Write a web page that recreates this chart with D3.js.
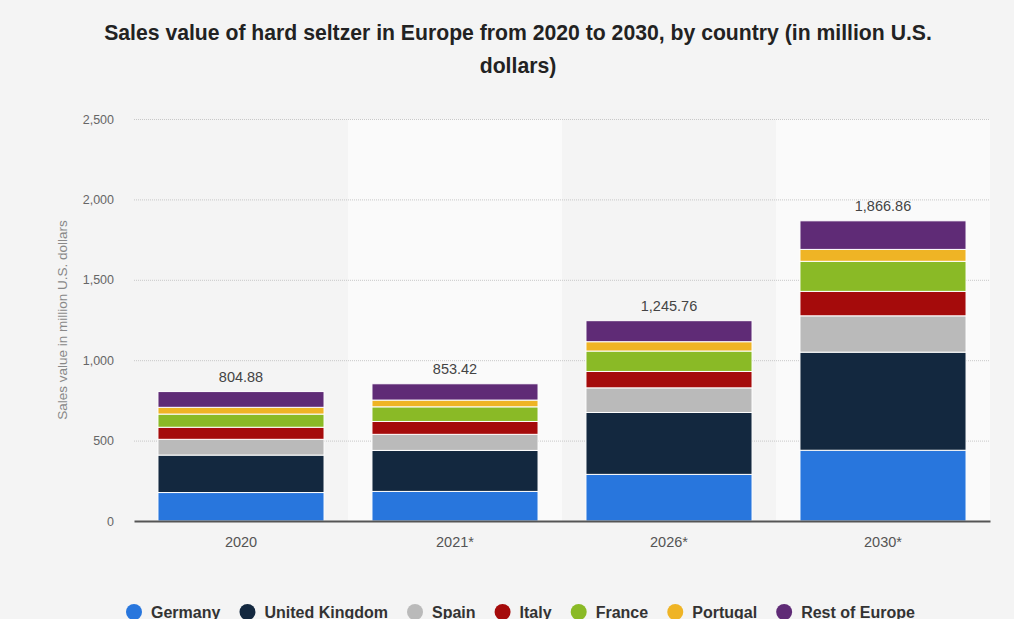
<!DOCTYPE html>
<html>
<head>
<meta charset="utf-8">
<script src="https://cdn.jsdelivr.net/npm/d3@7"></script>
<style>
  html, body { margin: 0; padding: 0; background: #f4f4f4; }
  svg { display: block; font-family: "Liberation Sans", Arial, Helvetica, sans-serif; }
</style>
</head>
<body>
<svg id="chart" width="1014" height="619"></svg>
<script>
// Data
const years = ['2020', '2021*', '2026*', '2030*']
const countries = ['Germany', 'United Kingdom', 'Spain', 'Italy', 'France', 'Portugal', 'Rest of Europe']
const germany = [177, 184, 290, 440]
const unitedKingdom = [233, 255, 385, 610]
const spain = [98, 100, 153, 226]
const italy = [75, 80, 102, 152]
const france = [82, 91, 127, 187]
const portugal = [42, 42, 58, 74]
const restOfEurope = [97.88, 101.42, 130.76, 177.86]
const yTicks = [0, 500, 1000, 1500, 2000, 2500]
const colors = ['#2876dd', '#13283f', '#bababa', '#a50b0b', '#8aba26', '#efb425', '#5f2b76']

const seriesValues = [germany, unitedKingdom, spain, italy, france, portugal, restOfEurope]
const table = years.map((y, i) => {
  const row = { year: y }
  countries.forEach((c, k) => { row[c] = seriesValues[k][i] })
  return row
})

const svg = d3.select('#chart')
const margin = { top: 119, right: 24, bottom: 98, left: 134 }
const W = 1014, H = 619
const x0 = margin.left, x1 = W - margin.right
const y0 = H - margin.bottom, y1 = margin.top

const x = d3.scaleBand().domain(years).range([x0, x1]).paddingInner(0.224).paddingOuter(0.112)
const xBand = d3.scaleBand().domain(years).range([x0, x1])
const y = d3.scaleLinear().domain([0, 2500]).range([y0, y1])
const color = d3.scaleOrdinal().domain(countries).range(colors)

// Title
const title = svg.append('text')
  .attr('x', 518).attr('y', 40)
  .attr('text-anchor', 'middle')
  .attr('font-size', 21.2).attr('font-weight', 'bold').attr('fill', '#222')
title.append('tspan').attr('x', 518).attr('dy', 0)
  .text('Sales value of hard seltzer in Europe from 2020 to 2030, by country (in million U.S.')
title.append('tspan').attr('x', 518).attr('dy', 33).text('dollars)')

// Alternating column bands
svg.append('g').selectAll('rect')
  .data(years.filter((d, i) => i % 2 === 1))
  .join('rect')
  .attr('x', d => xBand(d)).attr('width', xBand.bandwidth())
  .attr('y', y1).attr('height', y0 - y1)
  .attr('fill', '#fafafa')

// Grid lines
svg.append('g').selectAll('line')
  .data(yTicks.filter(t => t > 0))
  .join('line')
  .attr('x1', x0).attr('x2', x1)
  .attr('y1', d => y(d) + 0.5).attr('y2', d => y(d) + 0.5)
  .attr('stroke', '#c8c8c8').attr('stroke-dasharray', '1,1')

// Y axis labels
const yAxis = svg.append('g').attr('transform', `translate(${x0 - 20},0)`)
  .call(d3.axisLeft(y).tickValues(yTicks).tickFormat(d3.format(',')).tickSize(0).tickPadding(0))
yAxis.select('.domain').remove()
yAxis.selectAll('text').attr('font-size', 12.5).attr('fill', '#666')
  .attr('font-family', '"Liberation Sans", Arial, sans-serif')

svg.append('text')
  .attr('transform', `translate(67,${(y0 + y1) / 2}) rotate(-90)`)
  .attr('text-anchor', 'middle')
  .attr('font-size', 13.5).attr('fill', '#888')
  .text('Sales value in million U.S. dollars')

// Stacked bars
const stacked = d3.stack().keys(countries)(table)
svg.append('g').selectAll('g')
  .data(stacked)
  .join('g')
  .attr('fill', d => color(d.key))
  .selectAll('rect')
  .data(d => d)
  .join('rect')
  .attr('x', d => x(d.data.year))
  .attr('width', x.bandwidth())
  .attr('y', d => y(d[1]))
  .attr('height', d => y(d[0]) - y(d[1]))
  .attr('stroke', '#fff').attr('stroke-width', 1)

// Totals above bars
svg.append('g').selectAll('text')
  .data(table)
  .join('text')
  .attr('x', d => x(d.year) + x.bandwidth() / 2)
  .attr('y', d => y(d3.sum(countries, c => d[c])) - 10)
  .attr('text-anchor', 'middle')
  .attr('font-size', 14.5).attr('fill', '#444')
  .text(d => d3.format(',.2f')(d3.sum(countries, c => d[c])))

// X axis
const xAxis = svg.append('g').attr('transform', `translate(0,${y0})`)
  .call(d3.axisBottom(xBand).tickSize(0).tickPadding(16))
xAxis.select('.domain').attr('stroke', '#555').attr('stroke-width', 2)
xAxis.selectAll('text').attr('font-size', 14.5).attr('fill', '#555')
  .attr('font-family', '"Liberation Sans", Arial, sans-serif')

// Legend
const legend = svg.append('g').attr('transform', 'translate(0,612)')
const items = legend.selectAll('g').data(countries).join('g')
items.append('circle').attr('r', 8).attr('cy', 0).attr('fill', d => color(d))
items.append('text').attr('x', 17).attr('dy', '0.36em')
  .attr('font-size', 16).attr('font-weight', 'bold').attr('fill', '#333')
  .text(d => d)
let cx = 0
const positions = []
items.each(function () {
  const w = this.getBBox().width
  positions.push(cx)
  cx += w + 19
})
const start = 134
items.attr('transform', (d, i) => `translate(${start + positions[i]},0)`)
</script>
</body>
</html>
